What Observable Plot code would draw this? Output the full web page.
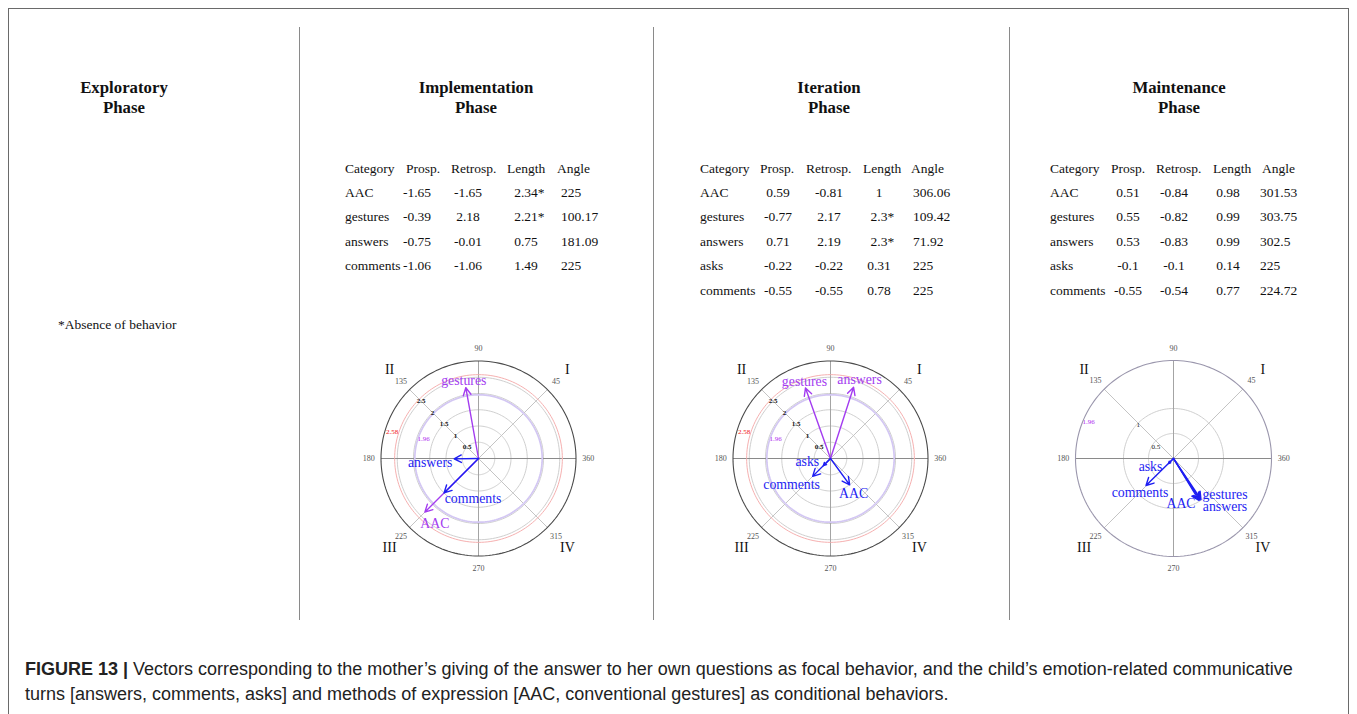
<!DOCTYPE html>
<html><head><meta charset="utf-8">
<script src="https://cdn.jsdelivr.net/npm/d3@7"></script>
<script src="https://cdn.jsdelivr.net/npm/@observablehq/plot@0.6"></script>
<style>
html,body{margin:0;padding:0;background:#fff;}
body{width:1357px;height:714px;position:relative;overflow:hidden;font-family:"Liberation Serif","Times New Roman",serif;color:#111;}
.frame{position:absolute;left:8px;top:8px;width:1341px;height:730px;border:1px solid #6a6a6a;box-sizing:border-box;}
.divider{position:absolute;top:27px;height:593px;width:0;border-left:1.5px solid #8a8a8a;}
.phase{position:absolute;top:78px;font-weight:bold;font-size:16.8px;text-align:center;line-height:20px;transform:translateX(-50%);white-space:nowrap;}
.cell{position:absolute;font-size:13.5px;line-height:16px;white-space:nowrap;}
.plot{position:absolute;top:328px;}
.caption{position:absolute;left:25px;top:657px;width:1320px;font-family:"Liberation Sans",Arial,sans-serif;font-size:18px;line-height:25px;color:#222;white-space:nowrap;}
</style></head>
<body>
<div class="frame"></div>
<div id="root"></div>
<div class="caption"><b>FIGURE 13 |</b> Vectors corresponding to the mother’s giving of the answer to her own questions as focal behavior, and the child’s emotion-related communicative<br>turns [answers, comments, asks] and methods of expression [AAC, conventional gestures] as conditional behaviors.</div>
<script>
// ---------------- DATA ----------------
const phaseTitles = ["Exploratory", "Implementation", "Iteration", "Maintenance"];
const tableHeader = ["Category", "Prosp.", "Retrosp.", "Length", "Angle"];
const footnote = "*Absence of behavior";

const implCategory = ["AAC", "gestures", "answers", "comments"];
const implProsp    = [-1.65, -0.39, -0.75, -1.06];
const implRetrosp  = [-1.65, 2.18, -0.01, -1.06];
const implLength   = [2.34, 2.21, 0.75, 1.49];
const implAbsent   = [true, true, false, false];
const implAngle    = [225, 100.17, 181.09, 225];

const iterCategory = ["AAC", "gestures", "answers", "asks", "comments"];
const iterProsp    = [0.59, -0.77, 0.71, -0.22, -0.55];
const iterRetrosp  = [-0.81, 2.17, 2.19, -0.22, -0.55];
const iterLength   = [1, 2.3, 2.3, 0.31, 0.78];
const iterAbsent   = [false, true, true, false, false];
const iterAngle    = [306.06, 109.42, 71.92, 225, 225];

const maintCategory = ["AAC", "gestures", "answers", "asks", "comments"];
const maintProsp    = [0.51, 0.55, 0.53, -0.1, -0.55];
const maintRetrosp  = [-0.84, -0.82, -0.83, -0.1, -0.54];
const maintLength   = [0.98, 0.99, 0.99, 0.14, 0.77];
const maintAbsent   = [false, false, false, false, false];
const maintAngle    = [301.53, 303.75, 302.5, 225, 224.72];

const criticalValues = [1.96, 2.58];
const gridRadiiWide  = [0.5, 1, 1.5, 2, 2.5];
const gridRadiiNarrow = [0.5, 1];
const angleTicks  = [0, 45, 90, 135, 180, 225, 270, 315];
const angleTickLabels = ["360", "45", "90", "135", "180", "225", "270", "315"];
const quadrantAngles = [45, 135, 225, 315];
const quadrantLabels = ["I", "II", "III", "IV"];

// ---------------- STYLE / LAYOUT ----------------
const PURPLE = "#a33cf0", BLUE = "#1e1ef2";
const SERIF = "'Liberation Serif','Times New Roman',serif";
const root = document.getElementById("root");

[299, 653, 1009].forEach(x => {
  const d = document.createElement("div"); d.className = "divider"; d.style.left = x + "px"; root.appendChild(d);
});
[124, 476, 829, 1179].forEach((x, i) => {
  const d = document.createElement("div"); d.className = "phase"; d.style.left = x + "px";
  d.innerHTML = phaseTitles[i] + "<br>Phase"; root.appendChild(d);
});
{
  const d = document.createElement("div"); d.className = "cell";
  d.style.left = "58px"; d.style.top = (325 - 8) + "px"; d.textContent = footnote; root.appendChild(d);
}

function cell(text, x, y, align) {
  const d = document.createElement("div"); d.className = "cell";
  d.style.left = x + "px"; d.style.top = (y - 8) + "px";
  if (align === "center") d.style.transform = "translateX(-50%)";
  d.textContent = text; root.appendChild(d); return d;
}
function table(layout, category, prosp, retro, len, absent, angle) {
  const y0 = 168.5, dy = 24.4;
  tableHeader.forEach((h, j) => cell(h, layout.head[j], y0, "left"));
  category.forEach((c, i) => {
    const y = y0 + dy * (i + 1);
    const vals = [c, String(prosp[i]), String(retro[i]), String(len[i]), String(angle[i])];
    vals.forEach((v, j) => {
      const [align, x] = layout.val[j];
      const d = cell(v, x, y, align);
      if (j === 3 && absent[i]) {
        const s = document.createElement("span"); s.textContent = "*";
        s.style.position = "absolute"; s.style.left = "100%"; s.style.top = "0"; d.appendChild(s);
      }
    });
  });
}
table({head: [345, 406, 451, 507, 557], val: [["left", 345], ["center", 417], ["center", 468], ["center", 526], ["left", 561]]},
  implCategory, implProsp, implRetrosp, implLength, implAbsent, implAngle);
table({head: [700, 760, 806, 863, 911], val: [["left", 700], ["center", 778], ["center", 829], ["center", 879], ["left", 913]]},
  iterCategory, iterProsp, iterRetrosp, iterLength, iterAbsent, iterAngle);
table({head: [1050, 1111, 1156, 1213, 1262], val: [["left", 1050], ["center", 1128], ["center", 1174], ["center", 1228], ["left", 1260]]},
  maintCategory, maintProsp, maintRetrosp, maintLength, maintAbsent, maintAngle);

// ---------------- POLAR CHARTS ----------------
const rad = Math.PI / 180;
const ring = r => d3.range(0, 361, 2).map(a => ({x: r * Math.cos(a * rad), y: r * Math.sin(a * rad)}));
const polarPt = (r, a) => ({x: r * Math.cos(a * rad), y: r * Math.sin(a * rad)});

function polar(opts) {
  const {category, prosp, retro, len, outerR, half, grid, outerStroke, outerWidth, crits, tickStyle, offsets} = opts;
  const rows = category.map((c, i) => ({cat: c, x: prosp[i], y: retro[i], sig: len[i] > criticalValues[0] ? "significant" : "not significant"}));
  const marks = [];
  grid.forEach(r => marks.push(Plot.line(ring(r), {x: "x", y: "y", stroke: "#cfcfcf", strokeWidth: 1})));
  marks.push(Plot.link([45, 135], {x1: a => -outerR * Math.cos(a * rad), y1: a => -outerR * Math.sin(a * rad),
    x2: a => outerR * Math.cos(a * rad), y2: a => outerR * Math.sin(a * rad), stroke: "#c4c4c4", strokeWidth: 1}));
  marks.push(Plot.link([90], {x1: () => 0, y1: () => -outerR, x2: () => 0, y2: () => outerR, stroke: "#a4a4a4", strokeWidth: 1}));
  marks.push(Plot.link([0], {x1: () => -outerR, y1: () => 0, x2: () => outerR, y2: () => 0, stroke: "#8a8a8a", strokeWidth: 1.1}));
  crits.forEach(c => {
    if (c.ring) marks.push(Plot.line(ring(c.value), {x: "x", y: "y", stroke: c.ringColor, strokeWidth: c.ringWidth}));
    const p = polarPt(c.value, c.labelAngle);
    marks.push(Plot.text([c.value], {x: () => p.x, y: () => p.y, text: d => String(d), dx: c.dx, dy: c.dy,
      fill: c.textColor, fontSize: 7, fontFamily: SERIF}));
  });
  marks.push(Plot.line(ring(outerR), {x: "x", y: "y", stroke: outerStroke, strokeWidth: outerWidth}));
  grid.forEach(r => {
    const p = polarPt(r, 135);
    marks.push(Plot.text([r], {x: () => p.x, y: () => p.y, text: d => String(d), dy: tickStyle.dy(r),
      fill: "#111", fontSize: 7, fontWeight: tickStyle.weight, fontFamily: SERIF}));
  });
  marks.push(Plot.text(angleTicks, {x: a => outerR * 1.125 * Math.cos(a * rad), y: a => outerR * 1.125 * Math.sin(a * rad),
    text: (a, i) => angleTickLabels[i], fill: "#555", fontSize: 8, fontFamily: SERIF}));
  marks.push(Plot.text(quadrantAngles, {x: a => outerR * 1.29 * Math.cos(a * rad), y: a => outerR * 1.29 * Math.sin(a * rad),
    text: (a, i) => quadrantLabels[i], fill: "#111", fontSize: 14, fontFamily: SERIF}));
  marks.push(Plot.arrow(rows, {x1: () => 0, y1: () => 0, x2: "x", y2: "y", stroke: "sig", strokeWidth: 1.4, headLength: 9, headAngle: 55}));
  rows.forEach(r => {
    const [dx, dy] = offsets[r.cat];
    marks.push(Plot.text([r], {x: "x", y: "y", text: "cat", fill: "sig", dx, dy, fontSize: 13.8, fontFamily: SERIF}));
  });
  const chart = Plot.plot({
    width: 260, height: 260, margin: 0,
    x: {domain: [-half, half], axis: null},
    y: {domain: [-half, half], axis: null},
    color: {domain: ["significant", "not significant"], range: [PURPLE, BLUE]},
    style: {background: "transparent", overflow: "visible", fontFamily: SERIF},
    marks
  });
  chart.classList.add("plot");
  chart.style.left = (opts.cx - 130) + "px";
  chart.style.top = (opts.cy - 130) + "px";
  chart.style.position = "absolute";
  root.appendChild(chart);
}

const wideCrits = [
  {value: 1.96, ring: true, ringColor: "#d3c7f3", ringWidth: 1.7, textColor: "#b030f0", labelAngle: 160, dx: 5, dy: 2},
  {value: 2.58, ring: true, ringColor: "#f6b0b0", ringWidth: 1, textColor: "#f01010", labelAngle: 161, dx: -7, dy: 1}
];
const tickWide = {weight: "bold", dy: r => 0};

polar({cx: 477.7, cy: 458.3, category: implCategory, prosp: implProsp, retro: implRetrosp, len: implLength,
  outerR: 3, half: 4, grid: gridRadiiWide, outerStroke: "#4a4a4a", outerWidth: 1.1, crits: wideCrits, tickStyle: tickWide,
  offsets: {AAC: [10, 11], gestures: [-2, -7], answers: [-24, 4], comments: [29, 6]}});

polar({cx: 830, cy: 458.3, category: iterCategory, prosp: iterProsp, retro: iterRetrosp, len: iterLength,
  outerR: 3, half: 4, grid: gridRadiiWide, outerStroke: "#4a4a4a", outerWidth: 1.1, crits: wideCrits, tickStyle: tickWide,
  offsets: {AAC: [4, 9], gestures: [-1, -6], answers: [6, -8], asks: [-16, -4], comments: [-21, 8]}});

polar({cx: 1173.3, cy: 458.3, category: maintCategory, prosp: maintProsp, retro: maintRetrosp, len: maintLength,
  outerR: 1.96, half: 2.6, grid: gridRadiiNarrow, outerStroke: "#9a96ac", outerWidth: 1.1,
  crits: [{value: 1.96, ring: false, textColor: "#b030f0", labelAngle: 158, dx: 6, dy: 0}],
  tickStyle: {weight: "normal", dy: r => r === 0.5 ? 6 : 2},
  offsets: {AAC: [-18, 3], gestures: [24, -5], answers: [25, 7], asks: [-18, 3], comments: [-6, 7]}});
</script>
</body></html>
